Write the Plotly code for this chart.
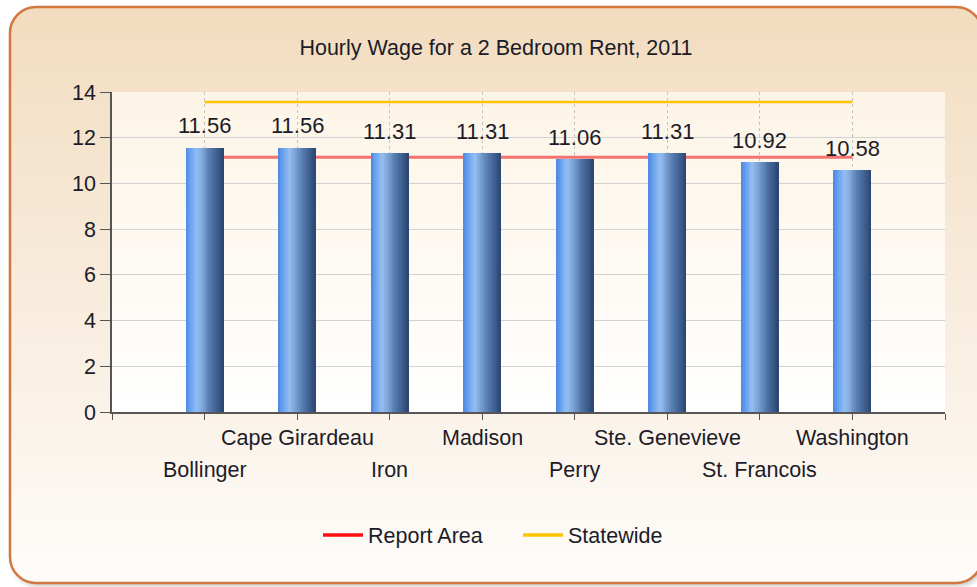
import base64
import plotly.graph_objects as go

# ---- data ----
counties = ["Bollinger", "Cape Girardeau", "Iron", "Madison", "Perry",
            "Ste. Genevieve", "St. Francois", "Washington"]
wages = [11.56, 11.56, 11.31, 11.31, 11.06, 11.31, 10.92, 10.58]
report_area = [11.15] * len(counties)
statewide = [13.56] * len(counties)
y_ticks = [0, 2, 4, 6, 8, 10, 12, 14]

# ---- layout geometry ----
W, H = 977, 587
ML, MR, MT, MB = 112, 32, 92, 175
PW, PH = W - ML - MR, H - MT - MB
FONT = "Liberation Sans, Arial, sans-serif"
TXT = "#1c1c28"

# ---- background svg (rounded panel + plot-area gradient) ----
svg = f'''<svg xmlns="http://www.w3.org/2000/svg" width="{W}" height="{H}" viewBox="0 0 {W} {H}">
<defs>
<linearGradient id="g1" x1="0" y1="0" x2="0" y2="1">
<stop offset="0" stop-color="#f2dcbf"/><stop offset="0.5" stop-color="#f8ecdd"/><stop offset="1" stop-color="#fefcfa"/>
</linearGradient>
<linearGradient id="g2" x1="0" y1="0" x2="0" y2="1">
<stop offset="0" stop-color="#fcf4e6"/><stop offset="1" stop-color="#ffffff"/>
</linearGradient>
<filter id="sh" x="-5%" y="-5%" width="110%" height="110%"><feGaussianBlur stdDeviation="2.5"/></filter>
</defs>
<rect x="12" y="10" width="972" height="576" rx="26" ry="26" fill="#c4c4c4" filter="url(#sh)"/>
<rect x="10" y="7" width="972" height="576" rx="26" ry="26" fill="url(#g1)" stroke="#d2783f" stroke-width="2.5"/>
<rect x="{ML}" y="{MT}" width="{PW}" height="{PH}" fill="url(#g2)"/>
</svg>'''
src = "data:image/svg+xml;base64," + base64.b64encode(svg.encode()).decode()

fig = go.Figure()

x_idx = list(range(len(counties)))

# lines (main axes, below the bars)
fig.add_trace(go.Scatter(x=x_idx, y=report_area, mode="lines", showlegend=False,
                         line=dict(color="rgba(245,90,90,0.85)", width=3), hoverinfo="skip"))
fig.add_trace(go.Scatter(x=x_idx, y=statewide, mode="lines", showlegend=False,
                         line=dict(color="#fcc40a", width=2.5), hoverinfo="skip"))
# legend entries
fig.add_trace(go.Scatter(x=[None], y=[None], mode="lines", name="Report Area",
                         line=dict(color="#ff1010", width=3.5)))
fig.add_trace(go.Scatter(x=[None], y=[None], mode="lines", name="Statewide",
                         line=dict(color="#ffc400", width=3.5)))

# cylinder-like bars built from narrow slices (on overlaid axes so they sit above lines)
stops = [(0.0, (0x4a, 0x86, 0xe2)), (0.15, (0x70, 0xa6, 0xf0)), (0.30, (0x95, 0xbe, 0xf3)),
         (0.45, (0x7c, 0xa3, 0xd6)), (0.60, (0x5d, 0x82, 0xb7)), (0.80, (0x40, 0x62, 0x93)),
         (1.0, (0x2a, 0x45, 0x6e))]


def interp(t):
    for (t0, c0), (t1, c1) in zip(stops[:-1], stops[1:]):
        if t0 <= t <= t1:
            f = (t - t0) / (t1 - t0)
            return "rgb(%d,%d,%d)" % tuple(round(a + (b - a) * f) for a, b in zip(c0, c1))
    return "rgb(%d,%d,%d)" % stops[-1][1]


BW = 0.41
N = 20
sw = BW / N
for i in range(N):
    fig.add_trace(go.Bar(x=x_idx, y=wages, xaxis="x2", yaxis="y2",
                         width=sw * 1.15 if i < N - 1 else sw, offset=-BW / 2 + i * sw,
                         marker=dict(color=interp((i + 0.5) / N), line=dict(width=0)),
                         showlegend=False, hoverinfo="skip"))

annotations = []
# value labels
for i, v in enumerate(wages):
    annotations.append(dict(x=i, y=v, xref="x", yref="y", text=f"{v:.2f}", showarrow=False,
                            yanchor="middle", yshift=22, font=dict(size=22, color=TXT, family=FONT)))
# staggered category labels
for i, c in enumerate(counties):
    annotations.append(dict(x=i, y=0, xref="x", yref="paper", text=c, showarrow=False,
                            yanchor="middle", yshift=-26 if i % 2 else -58,
                            font=dict(size=21.5, color=TXT, family=FONT)))

fig.update_layout(
    width=W, height=H,
    margin=dict(l=ML, r=MR, t=MT, b=MB),
    paper_bgcolor="white", plot_bgcolor="rgba(0,0,0,0)",
    barmode="overlay", bargap=0,
    font=dict(family=FONT, size=21, color=TXT),
    title=dict(text="Hourly Wage for a 2 Bedroom Rent, 2011", xref="container", yref="container",
               x=496 / W, xanchor="center", y=1 - 47 / H, yanchor="middle",
               font=dict(size=21.5, color=TXT, family=FONT)),
    xaxis=dict(range=[-1, len(counties)], tickvals=list(range(-1, len(counties) + 1)),
               showticklabels=False, ticks="outside", ticklen=6, tickcolor="#555",
               showgrid=True, gridcolor="#c4c4c4", griddash="dot", gridwidth=1,
               showline=True, linecolor="#555", linewidth=1.5, zeroline=False, fixedrange=True),
    yaxis=dict(range=[0, 14], tickvals=y_ticks, ticks="outside", ticklen=10, tickcolor="#555",
               showgrid=True, gridcolor="#d2d2d2", gridwidth=1, showline=True, linecolor="#555",
               linewidth=1.5, zeroline=False, tickfont=dict(size=21.5, color=TXT), fixedrange=True),
    xaxis2=dict(range=[-1, len(counties)], overlaying="x", anchor="y2", visible=False),
    yaxis2=dict(range=[0, 14], overlaying="y", anchor="x2", visible=False),
    legend=dict(orientation="h", xref="container", yref="container", x=318 / W, xanchor="left",
                y=1 - 535 / H, yanchor="middle", font=dict(size=21.5, color=TXT, family=FONT),
                itemwidth=40, entrywidth=145, entrywidthmode="pixels",
                bgcolor="rgba(0,0,0,0)"),
    annotations=annotations,
    images=[dict(source=src, xref="paper", yref="paper", x=-ML / PW, y=1 + MT / PH,
                 sizex=W / PW, sizey=H / PH, xanchor="left", yanchor="top",
                 sizing="stretch", layer="below")],
)

fig.write_html("out.html", config={"displayModeBar": False},
               post_script="document.body.style.margin='0px';")
